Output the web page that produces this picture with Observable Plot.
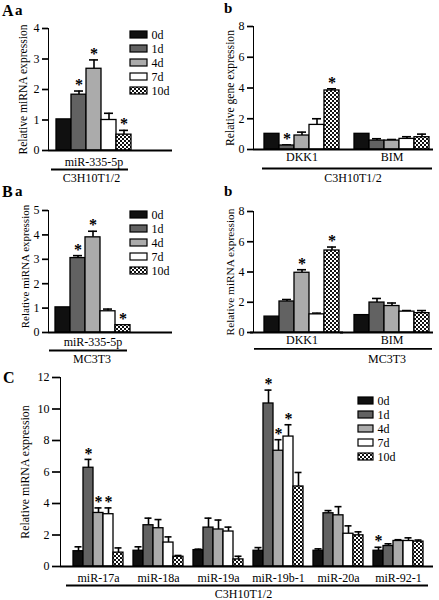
<!DOCTYPE html>
<html>
<head>
<meta charset="utf-8">
<script src="https://cdn.jsdelivr.net/npm/d3@7"></script>
<script src="https://cdn.jsdelivr.net/npm/@observablehq/plot@0.6"></script>
<style>
  html, body { margin: 0; padding: 0; background: #fff; }
  #root { position: relative; width: 439px; height: 600px; background: #fff; overflow: hidden; font-family: "Liberation Serif", "Times New Roman", serif; }
  .pane { position: absolute; }
  .letter { position: absolute; font-weight: bold; font-size: 15px; line-height: 1; color: #000; }
  svg g[aria-label^="y-axis"] { stroke-width: 1.7px; }
</style>
</head>
<body>
<svg width="0" height="0" style="position:absolute">
  <defs>
    <pattern id="checker" width="4" height="4" patternUnits="userSpaceOnUse">
      <rect width="4" height="4" fill="#fff"></rect>
      <rect width="2" height="2" fill="#111"></rect>
      <rect x="2" y="2" width="2" height="2" fill="#111"></rect>
    </pattern>
  </defs>
</svg>
<div id="root"></div>
<script>
// ---------- data ----------
const days = ["0d", "1d", "4d", "7d", "10d"];
const dayFills = ["#101010", "#626262", "#ababab", "#ffffff", "url(#checker)"];

// A a — C3H10T1/2, miR-335-5p
const aaGenes = ["miR-335-5p"];
const aaMean = [[1.02, 1.83, 2.68, 1.0, 0.52]];
const aaErr  = [[null, 1.95, 2.97, 1.22, 0.66]];
const aaStar = [[0, 1, 1, 0, 1]];

// A b — C3H10T1/2, genes
const abGenes = ["DKK1", "BIM"];
const abMean = [[1.02, 0.26, 0.91, 1.6, 3.84], [1.02, 0.58, 0.58, 0.69, 0.8]];
const abErr  = [[null, 0.3, 1.13, 2.0, 3.95], [null, 0.7, 0.65, 0.83, 1.0]];
const abStar = [[0, 1, 0, 0, 1], [0, 0, 0, 0, 0]];

// B a — MC3T3, miR-335-5p
const baGenes = ["miR-335-5p"];
const baMean = [[1.03, 3.05, 3.9, 0.87, 0.3]];
const baErr  = [[null, 3.15, 4.15, 0.96, null]];
const baStar = [[0, 1, 1, 0, 1]];

// B b — MC3T3, genes
const bbGenes = ["DKK1", "BIM"];
const bbMean = [[1.05, 2.05, 3.95, 1.2, 5.42], [1.15, 1.98, 1.75, 1.38, 1.28]];
const bbErr  = [[null, 2.18, 4.15, 1.28, 5.65], [null, 2.25, 1.95, 1.45, 1.45]];
const bbStar = [[0, 0, 1, 0, 1], [0, 0, 0, 0, 0]];

// C — C3H10T1/2, miR-17-92 cluster
const cGenes = ["miR-17a", "miR-18a", "miR-19a", "miR-19b-1", "miR-20a", "miR-92-1"];
const cMean = [
  [0.97, 6.27, 3.4, 3.32, 0.88],
  [1.0, 2.62, 2.43, 1.52, 0.62],
  [1.04, 2.47, 2.35, 2.22, 0.45],
  [1.0, 10.35, 7.35, 8.25, 5.08],
  [1.0, 3.38, 3.25, 2.08, 1.98],
  [1.0, 1.3, 1.62, 1.62, 1.58]
];
const cErr = [
  [1.25, 6.8, 3.72, 3.72, 1.18],
  [1.25, 3.07, 2.98, 1.88, 0.7],
  [1.1, 3.07, 2.95, 2.5, 0.65],
  [1.2, 11.2, 8.05, 9.0, 5.97],
  [1.12, 3.55, 3.8, 2.58, 2.2],
  [1.22, 1.44, 1.7, 1.82, 1.68]
];
const cStar = [
  [0, 1, 1, 1, 0],
  [0, 0, 0, 0, 0],
  [0, 0, 0, 0, 0],
  [0, 1, 1, 1, 0],
  [0, 0, 0, 0, 0],
  [1, 0, 0, 0, 0]
];

// ---------- helpers ----------
const FONT = "'Liberation Serif', 'Times New Roman', serif";
const root = document.getElementById("root");

function place(node, left, top) {
  const d = document.createElement("div");
  d.className = "pane";
  d.style.left = left + "px";
  d.style.top = top + "px";
  d.appendChild(node);
  root.appendChild(d);
}
function letter(txt, left, top, size) {
  const d = document.createElement("div");
  d.className = "letter";
  d.textContent = txt;
  d.style.left = left + "px";
  d.style.top = top + "px";
  if (size) d.style.fontSize = size + "px";
  root.appendChild(d);
}

function panel(c) {
  const rows = [];
  const keys = [];
  c.genes.forEach((g, i) => {
    if (i > 0) keys.push("gap" + i);
    days.forEach((d, j) => {
      const key = g + "|" + d;
      keys.push(key);
      rows.push({gene: g, day: d, key, value: c.mean[i][j], err: c.err[i][j], star: c.star[i][j]});
    });
  });
  const withErr = rows.filter(r => r.err != null);
  const starred = rows.filter(r => r.star);
  const first = c.genes[0] + "|0d";
  const last = c.genes[c.genes.length - 1] + "|10d";
  const capInset = c.capInset;

  const baseline = c.axisBreak
    ? Plot.ruleY(c.genes, {y: () => 0, x1: g => g + "|0d", x2: g => g + "|10d",
        insetLeft: c.axisBreak[0], insetRight: c.axisBreak[1], strokeWidth: 1.8})
    : Plot.ruleY([0], {strokeWidth: 1.8});

  return Plot.plot({
    width: c.W, height: c.H,
    marginLeft: c.mL, marginRight: c.mR, marginTop: c.mT, marginBottom: c.mB,
    style: {fontFamily: FONT, fontSize: "12px", color: "#000", background: "transparent", overflow: "visible"},
    x: {type: "band", domain: keys, range: c.xRange, padding: 0, axis: null},
    y: {domain: [0, c.yMax], ticks: c.yTicks, tickSize: c.tickSize || 6, tickPadding: 3,
        line: true, label: null, tickFormat: d => String(d)},
    color: {type: "ordinal", domain: days, range: dayFills},
    marks: [
      Plot.ruleX(withErr, {x: "key", y1: "value", y2: "err", stroke: "#000", strokeWidth: 1.6}),
      Plot.tickY(withErr, {x: "key", y: "err", stroke: "#000", strokeWidth: 1.6, insetLeft: capInset, insetRight: capInset}),
      Plot.barY(rows, {x: "key", y: "value", fill: "day", stroke: "#000", strokeWidth: 1.3}),
      Plot.text(starred, {x: "key", y: r => r.err != null ? r.err : r.value, text: () => "*",
        fontSize: 16, fontWeight: "bold", lineAnchor: "middle", dy: c.starDy}),
      baseline,
      Plot.text(c.genes, {x: g => g + "|4d", text: d => d, frameAnchor: "bottom",
        lineAnchor: "middle", dy: c.geneDy, fontSize: 12}),
      Plot.ruleY([c.cell], {y: () => 0, x1: () => first, x2: () => last, dy: c.ulDy,
        insetLeft: c.ulInset[0], insetRight: c.ulInset[1], strokeWidth: 1.8}),
      Plot.text([c.cell], {x: () => c.cellKey, text: d => d, frameAnchor: "bottom",
        lineAnchor: "middle", dy: c.cellDy, dx: c.cellDx, fontSize: 12}),
      Plot.text([c.yLabel], {text: d => d, frameAnchor: "left", rotate: -90, textAnchor: "middle",
        dx: c.yLabelDx, dy: c.yLabelDy || 0, lineAnchor: "middle", fontSize: c.yLabelSize})
    ]
  });
}

function legend(swW, swH, step) {
  const p = 1 - swH / step;
  const L = step * (days.length + p);
  const svg = Plot.plot({
    width: 60, height: Math.ceil(L) + 2,
    marginLeft: 2, marginRight: 0, marginTop: 1, marginBottom: 1,
    style: {fontFamily: FONT, fontSize: "12px", color: "#000", background: "transparent", overflow: "visible"},
    x: {domain: [0, 1], range: [2, 2 + swW], axis: null},
    y: {type: "band", domain: days, range: [1, 1 + L], padding: p, axis: null},
    color: {type: "ordinal", domain: days, range: dayFills},
    marks: [
      Plot.barX(days, {x1: 0, x2: 1, y: d => d, fill: d => d, stroke: "#000", strokeWidth: 1.2}),
      Plot.text(days, {x: 1, y: d => d, text: d => d, dx: 4, textAnchor: "start", fontSize: 12})
    ]
  });
  return {svg, firstCenter: 1 + step * (1 + p) / 2};
}
function placeLegend(swW, swH, step, left, firstCenterY) {
  const lg = legend(swW, swH, step);
  place(lg.svg, left - 2, firstCenterY - lg.firstCenter);
}

// ---------- A a ----------
place(panel({
  genes: aaGenes, mean: aaMean, err: aaErr, star: aaStar,
  W: 220, H: 185, mL: 48, mR: 48, mT: 28, mB: 35,
  xRange: [54, 133], yMax: 4, yTicks: [0, 1, 2, 3, 4],
  capInset: 3, starDy: -6, geneDy: 11.5,
  cell: "C3H10T1/2", cellKey: "miR-335-5p|4d", cellDx: -2.5, cellDy: 28,
  ulDy: 19, ulInset: [-5, 3],
  yLabel: "Relative miRNA expression", yLabelDx: -25, yLabelSize: 11.6
}), 0, 0);
placeLegend(17, 7, 14.4, 130, 34);
letter("A", 2, 3, 16);
letter("a", 15, 3, 15);

// ---------- A b ----------
place(panel({
  genes: abGenes, mean: abMean, err: abErr, star: abStar,
  W: 219, H: 185, mL: 33, mR: 6, mT: 26, mB: 36,
  xRange: [42, 210], yMax: 8, yTicks: [0, 2, 4, 6, 8],
  capInset: 3, starDy: -6, geneDy: 8,
  cell: "C3H10T1/2", cellKey: "gap1", cellDx: 6, cellDy: 29,
  ulDy: 19, ulInset: [-2, -3],
  yLabel: "Relative gene expression", yLabelDx: -23, yLabelSize: 11.6
}), 220, 0);
letter("b", 224, 1, 15);

// ---------- B a ----------
place(panel({
  genes: baGenes, mean: baMean, err: baErr, star: baStar,
  W: 220, H: 185, mL: 48, mR: 48, mT: 30, mB: 33,
  xRange: [53, 131], yMax: 5, yTicks: [0, 1, 2, 3, 4, 5],
  capInset: 3, starDy: -6, geneDy: 10,
  cell: "MC3T3", cellKey: "miR-335-5p|4d", cellDx: -1, cellDy: 27,
  ulDy: 18, ulInset: [-6, 3],
  yLabel: "Relative miRNA expression", yLabelDx: -23, yLabelDy: -5, yLabelSize: 11
}), 0, 180);
placeLegend(17, 7, 14.6, 130, 212.7);
letter("B", 2, 184, 16);
letter("a", 15, 184, 15);

// ---------- B b ----------
place(panel({
  genes: bbGenes, mean: bbMean, err: bbErr, star: bbStar,
  W: 219, H: 185, mL: 33, mR: 6, mT: 31, mB: 33,
  xRange: [42.7, 210], yMax: 8, yTicks: [0, 2, 4, 6, 8],
  capInset: 3, starDy: -6, geneDy: 8, axisBreak: [-14, -4],
  cell: "MC3T3", cellKey: "gap1", cellDx: 40, cellDy: 27,
  ulDy: 16.3, ulInset: [-10, -3],
  yLabel: "Relative miRNA expression", yLabelDx: -23, yLabelSize: 11.3
}), 220, 180);
letter("b", 224, 184, 15);

// ---------- C ----------
place(panel({
  genes: cGenes, mean: cMean, err: cErr, star: cStar,
  W: 439, H: 235, mL: 60, mR: 6, mT: 12, mB: 34,
  xRange: [64, 432], yMax: 12, yTicks: [0, 2, 4, 6, 8, 10, 12], tickSize: 8,
  capInset: 1.5, starDy: -6, geneDy: 12,
  cell: "C3H10T1/2", cellKey: "gap3", cellDx: -5, cellDy: 28,
  ulDy: 19, ulInset: [-7, -5],
  yLabel: "Relative miRNA expression", yLabelDx: -35, yLabelSize: 11.9
}), 0, 365);
placeLegend(15, 7, 14.3, 358, 400);
letter("C", 3, 370, 16);
</script>
</body>
</html>
